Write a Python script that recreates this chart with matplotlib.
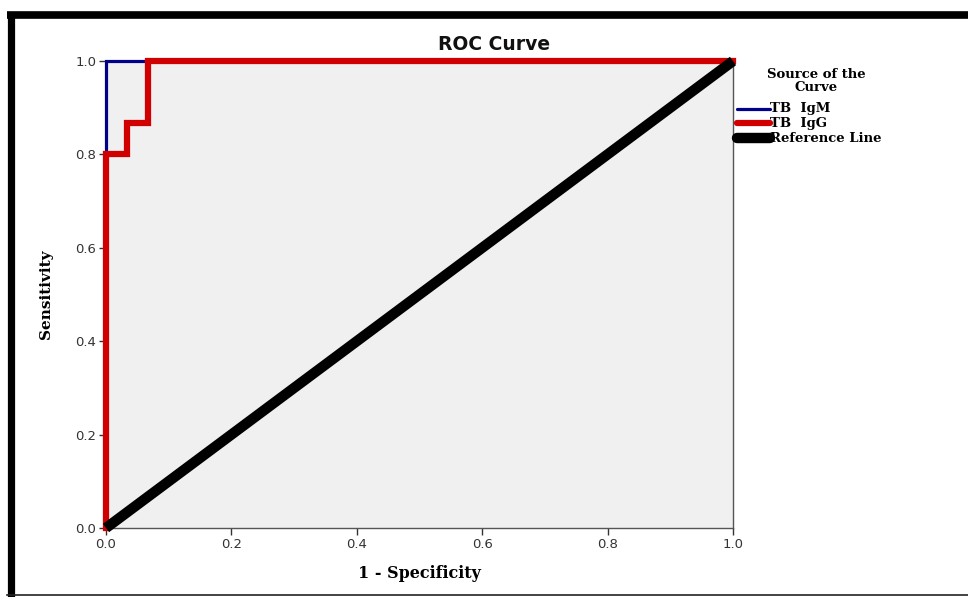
import matplotlib
matplotlib.use("Agg")
import matplotlib.pyplot as plt
from matplotlib.lines import Line2D

# Data
igm_fpr = [0.0, 0.0, 1.0]
igm_tpr = [0.0, 1.0, 1.0]
igg_fpr = [0.0, 0.0, 0.033, 0.033, 0.067, 0.067, 1.0]
igg_tpr = [0.0, 0.8, 0.8, 0.867, 0.867, 1.0, 1.0]
ref_x = [0.0, 1.0]
ref_y = [0.0, 1.0]
ticks = [0.0, 0.2, 0.4, 0.6, 0.8, 1.0]
tick_labels = ["0.0", "0.2", "0.4", "0.6", "0.8", "1.0"]
legend_labels = ["TB  IgM", "TB  IgG", "Reference Line"]

W, H = 968, 597
fig = plt.figure(figsize=(W/100, H/100), dpi=100)
fig.patch.set_facecolor("white")

ax = fig.add_axes([106/W, 1-528/H, (733-106)/W, (528-61)/H])
ax.set_facecolor("#f0f0f0")
ax.plot(igm_fpr, igm_tpr, color="#00008b", lw=2.3, clip_on=False, zorder=3, solid_joinstyle="miter")
ax.plot(igg_fpr, igg_tpr, color="#d00000", lw=4.5, clip_on=False, zorder=4, solid_joinstyle="miter")
ax.plot(ref_x, ref_y, color="black", lw=7.5, clip_on=False, zorder=5, solid_capstyle="butt")
ax.set_xlim(0, 1)
ax.set_ylim(0, 1)
ax.set_xticks(ticks)
ax.set_xticklabels(tick_labels)
ax.set_yticks(ticks)
ax.set_yticklabels(tick_labels)
ax.tick_params(direction="out", length=5, width=1, color="#333333", labelcolor="#333333",
               labelsize=9.5, pad=2)
for s in ax.spines.values():
    s.set_color("#555555")
    s.set_linewidth(1)

fig.text(494/W, 1-45/H, "ROC Curve", ha="center", va="center", fontsize=13.5,
         fontfamily="DejaVu Sans", fontweight="bold", color="#111111")
ax.set_xlabel("1 - Specificity", fontsize=11.5, fontfamily="DejaVu Serif", fontweight="bold", labelpad=10)
ax.set_ylabel("Sensitivity", fontsize=11, fontfamily="DejaVu Serif", fontweight="bold", labelpad=16)

# Legend
fig.text(816/W, 1-81/H, "Source of the\nCurve", ha="center", va="center", fontsize=9.5,
         fontfamily="DejaVu Serif", fontweight="bold", linespacing=0.95)
leg_y = [109, 123, 138]
leg_c = ["#00008b", "#d00000", "black"]
leg_w = [2.3, 4.5, 7.5]
for y, c, w, lab in zip(leg_y, leg_c, leg_w, legend_labels):
    fig.add_artist(Line2D([737/W, 770/W], [1-y/H, 1-y/H], color=c, lw=w,
                          solid_capstyle="round"))
    fig.text(770/W, 1-y/H, lab, ha="left", va="center", fontsize=9.5,
             fontfamily="DejaVu Serif", fontweight="bold")

# Frame
fig.add_artist(Line2D([7/W, 1.0], [1-15/H, 1-15/H], color="black", lw=5.5, solid_capstyle="butt"))
fig.add_artist(Line2D([10.5/W, 10.5/W], [0, 1-12/H], color="black", lw=5.2, solid_capstyle="butt"))
fig.add_artist(Line2D([7/W, 1.0], [1-595/H, 1-595/H], color="#222222", lw=1.2))

fig.savefig("out.png", dpi=100)
